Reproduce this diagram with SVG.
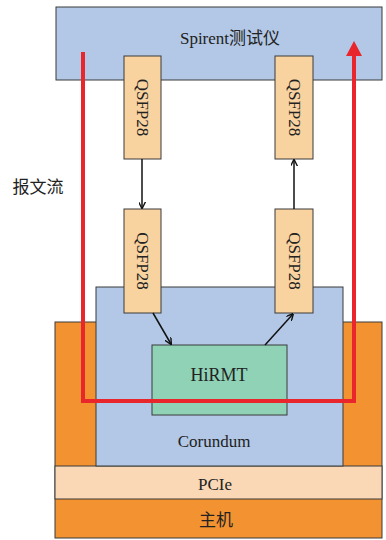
<svg xmlns="http://www.w3.org/2000/svg" width="386" height="540" viewBox="0 0 386 540">
<defs>
<style>
.box{stroke:#3a3a3a;stroke-width:1}
.t{font-family:"Liberation Serif","Noto Sans CJK SC",serif;fill:#222;text-anchor:middle}
.q{fill:#F8D29F}
.conn line{stroke:#111;stroke-width:1.5}
</style>
<marker id="ah" viewBox="0 0 10 10" refX="9" refY="5" markerWidth="7" markerHeight="7" orient="auto" markerUnits="userSpaceOnUse">
<path d="M0,0 L10,5 L0,10" fill="none" stroke="#111" stroke-width="2"/>
</marker>
</defs>
<rect width="386" height="540" fill="#fff"/>
<g id="host">
<rect class="box" x="55" y="322" width="327" height="216" fill="#F39231"/>
<text class="t" x="216" y="526" font-size="17">主机</text>
</g>
<g id="pcie">
<rect class="box" x="55" y="466" width="327" height="33" fill="#FAD8B6"/>
<text class="t" x="215" y="490" font-size="17">PCIe</text>
</g>
<g id="corundum">
<rect class="box" x="96" y="287" width="247" height="179" fill="#B2C8E6"/>
<text class="t" x="214" y="447" font-size="17">Corundum</text>
</g>
<g id="hirmt">
<rect class="box" x="152" y="345" width="135" height="70" fill="#8FD2B6"/>
<text class="t" x="219" y="381" font-size="18">HiRMT</text>
</g>
<g id="spirent">
<rect class="box" x="56" y="7" width="326" height="73" fill="#B2C8E6"/>
<text class="t" x="230" y="44" font-size="17">Spirent测试仪</text>
</g>
<g id="qsfp1">
<rect class="box q" x="124" y="56" width="37" height="103"/>
<text class="t" font-size="17" transform="translate(136.5,107.5) rotate(90)">QSFP28</text>
</g>
<g id="qsfp2">
<rect class="box q" x="275" y="56" width="38" height="103"/>
<text class="t" font-size="17" transform="translate(288.5,107.5) rotate(90)">QSFP28</text>
</g>
<g id="qsfp3">
<rect class="box q" x="124" y="209" width="37" height="104"/>
<text class="t" font-size="17" transform="translate(136.5,261) rotate(90)">QSFP28</text>
</g>
<g id="qsfp4">
<rect class="box q" x="275" y="209" width="38" height="104"/>
<text class="t" font-size="17" transform="translate(288.5,261) rotate(90)">QSFP28</text>
</g>
<g id="label">
<text class="t" x="38" y="193" font-size="17" style="font-family:'Noto Sans CJK SC',sans-serif">报文流</text>
</g>
<g id="connectors" class="conn">
<line x1="142" y1="159" x2="142" y2="208" marker-end="url(#ah)"/>
<line x1="294" y1="209" x2="294" y2="160" marker-end="url(#ah)"/>
<line x1="153" y1="313" x2="171" y2="344" marker-end="url(#ah)"/>
<line x1="265" y1="345" x2="293" y2="314" marker-end="url(#ah)"/>
<polyline points="83,52 83,401 354,401 354,55" fill="none" stroke="#E8262B" stroke-width="4"/>
<polygon points="354,41 346,56 362,56" fill="#E8262B"/>
</g>
</svg>
